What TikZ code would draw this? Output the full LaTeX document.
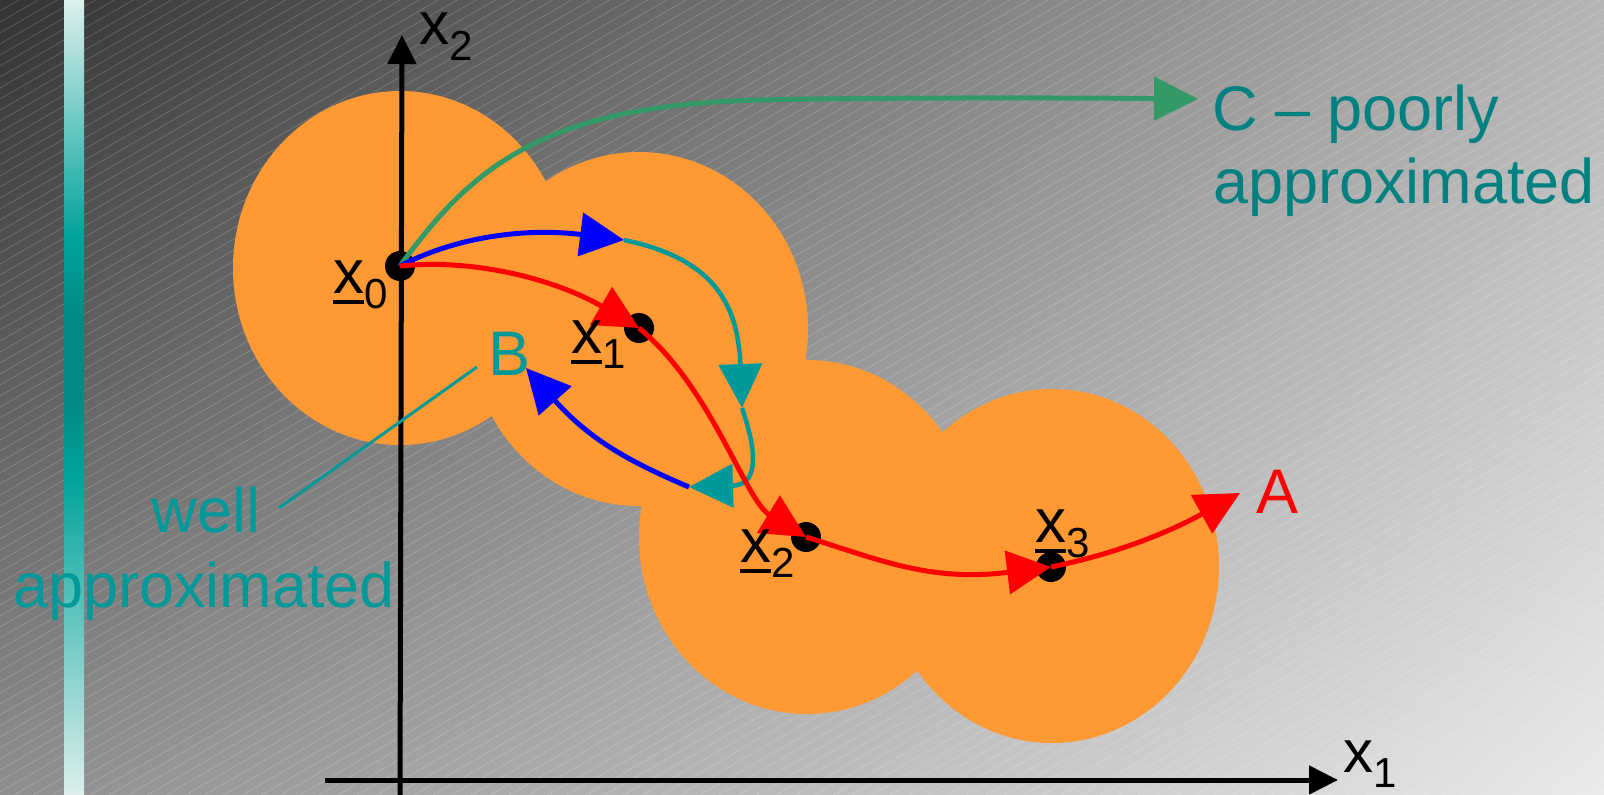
\documentclass[tikz,border=0pt]{standalone}
\usepackage{fontspec}
\setmainfont{Liberation Sans}
\usetikzlibrary{arrows.meta,shadings}
\definecolor{orangefill}{HTML}{FF9933}
\definecolor{tealB}{HTML}{009999}
\definecolor{tealC}{HTML}{008080}
\definecolor{greenC}{HTML}{339966}
\definecolor{barlight}{HTML}{DDEFEC}
\definecolor{barmid}{HTML}{00A39B}
\definecolor{bardark}{HTML}{008A86}
\definecolor{bgUL}{HTML}{333333}
\definecolor{bgUR}{HTML}{B4B4B4}
\definecolor{bgLL}{HTML}{8E8E8E}
\definecolor{bgLR}{HTML}{EAEAEA}
\pgfdeclareverticalshading{sidebar}{100bp}{color(0bp)=(barlight); color(25bp)=(barlight);
  color(45bp)=(barmid); color(49.5bp)=(bardark); color(55bp)=(bardark);
  color(60bp)=(barmid); color(75bp)=(barlight); color(100bp)=(barlight)}
% underlined vector x with subscript, and plain axis x with subscript
\newcommand\vx[1]{\mbox{\rlap{\rule[-0.18em]{0.5em}{0.065em}}x\raisebox{-15pt}{\fontsize{42}{42}\selectfont #1}}}
\newcommand\ax[2]{\mbox{x\raisebox{-#2}{\fontsize{42}{42}\selectfont #1}}}
\tikzset{
  dot/.style={circle, fill=black, minimum size=30pt, inner sep=0pt},
  region/.style={fill=orangefill},
  axisline/.style={line width=5pt, -{Triangle[length=29pt,width=28pt]}},
  bigtip/.style={-{Triangle[length=44pt,width=43pt]}},
  redpath/.style={bigtip, draw=red, line width=5pt, red},
  bluepath/.style={bigtip, draw=blue, line width=5pt, blue},
  tealpath/.style={bigtip, draw=tealB, line width=4.5pt, tealB},
  greenpath/.style={bigtip, draw=greenC, line width=5pt, greenC},
  lbl/.style={anchor=base west, inner sep=0pt, font=\fontsize{62}{62}\selectfont},
  bigtext/.style={inner sep=0pt, font=\fontsize{63}{63}\selectfont},
}
\begin{document}
\begin{tikzpicture}[x=1pt, y=-1pt]
\useasboundingbox (0,0) rectangle (1604,795);
% background
\shade[upper left=bgUL, upper right=bgUR, lower left=bgLL, lower right=bgLR] (0,0) rectangle (1604,795);
\begin{scope}
  \clip (0,0) rectangle (1604,795);
  \foreach \c in {0,11,...,1727}
    \draw[white, opacity=0.22, line width=0.6pt] (0,\c) -- (1604,\c-926);
\end{scope}
% side bar
\shade[shading=sidebar] (64,0) rectangle (84,795);

% approximation regions
\fill[region] (400,268) ellipse [x radius=167pt, y radius=177pt];
\fill[region] (639,329) ellipse [x radius=169pt, y radius=177pt];
\fill[region] (807,537) ellipse [x radius=168pt, y radius=177pt];
\fill[region] (1052,566) ellipse [x radius=167pt, y radius=177pt];

% axes
\coordinate (yb) at (400,795);
\coordinate (yt) at (402,35);
\coordinate (xl) at (325,780);
\coordinate (xr) at (1338,780);
\draw[axisline] (yb) -- (yt);
\draw[axisline] (xl) -- (xr);
\node[lbl, font=\fontsize{60}{60}\selectfont] (lx2) at (419,44) {\ax{2}{17pt}};
\node[lbl, font=\fontsize{60}{60}\selectfont] (lx1) at (1343,772) {\ax{1}{15pt}};

% leader line of the label B
\coordinate (lead1) at (477,367);
\coordinate (lead2) at (279,508);
\draw[tealB, line width=3pt] (lead1) -- (lead2);

% sample points
\node[dot] (p0) at (400,266) {};
\node[dot] (p1) at (639,328) {};
\node[dot] (p2) at (806,537) {};
\node[dot] (p3) at (1051,567) {};

% trajectory C
\coordinate (cMid) at (760,100);
\coordinate (cEnd) at (1198,99);
\draw[greenpath] (p0.center) .. controls (470,170) and (540,105) .. (cMid)
  .. controls (900,97) and (1100,98) .. (cEnd);

% trajectory B
\coordinate (bTop) at (624,240);
\coordinate (bRight) at (742,408);
\coordinate (bLow) at (689,487);
\coordinate (bEnd) at (526,368);
\draw[bluepath] (p0.center) .. controls (460,235) and (530,228) .. (bTop);
\draw[tealpath] (bTop) .. controls (710,258) and (738,300) .. (bRight);
\draw[tealpath] (bRight) .. controls (758,455) and (758,485) .. (bLow);
\draw[bluepath] (bLow) .. controls (630,462) and (590,440) .. (bEnd);

% trajectory A
\coordinate (aEnd) at (1240,493);
\draw[redpath] (p0.center) .. controls (480,258) and (560,282) .. (p1.center);
\draw[redpath] (p1.center) .. controls (712,388) and (745,500) .. (p2.center);
\draw[redpath] (p2.center) .. controls (880,560) and (930,582) .. (p3.center);
\draw[redpath] (p3.center) .. controls (1110,555) and (1164,535) .. (aEnd);

% point labels
\node[lbl] (l0) at (333,293) {\vx{0}};
\node[lbl] (l1) at (571,353) {\vx{1}};
\node[lbl] (l2) at (740,562) {\vx{2}};
\node[lbl] (l3) at (1035,542) {\vx{3}};

% trajectory labels
\node[bigtext, anchor=base west, text=red] (tA) at (1256,513) {A};
\node[bigtext, anchor=base west, text=tealB] (tB) at (488,375) {B};
\node[bigtext, anchor=base west, text=tealC] (tC1) at (1212,130) {C – poorly};
\node[bigtext, anchor=base west, text=tealC] (tC2) at (1213,203) {approximated};
\node[bigtext, anchor=base, text=tealB] (tW1) at (206,532) {well};
\node[bigtext, anchor=base, text=tealB] (tW2) at (204,607) {approximated};
\end{tikzpicture}
\end{document}
